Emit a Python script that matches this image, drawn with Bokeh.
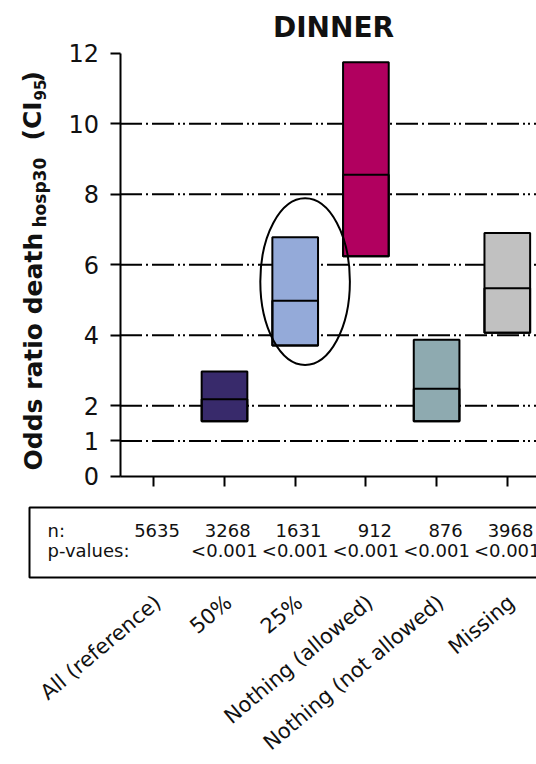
import math
from bokeh.plotting import figure
from bokeh.models import Range1d, FixedTicker, ColumnDataSource
from bokeh.core.properties import value
from bokeh.embed import file_html
from bokeh.resources import INLINE

# ---------------- data ----------------
categories = ["All (reference)", "50%", "25%", "Nothing (allowed)",
              "Nothing (not allowed)", "Missing"]
n_values = ["5635", "3268", "1631", "912", "876", "3968"]
p_values = ["", "<0.001", "<0.001", "<0.001", "<0.001", "<0.001"]

# odds ratio boxes (reference group has no box)
box_index = [1, 2, 3, 4, 5]
box_low = [1.56, 3.71, 6.24, 1.56, 4.07]
box_median = [2.18, 4.98, 8.55, 2.48, 5.33]
box_high = [2.97, 6.78, 11.74, 3.87, 6.90]
box_colors = ["#382a6b", "#94aad9", "#b1005f", "#8eaab0", "#c1c1c1"]

y_ticks = [0, 1, 2, 4, 6, 8, 10, 12]
grid_ticks = [1, 2, 4, 6, 8, 10]

FONT = "DejaVu Sans"
GRID_DASH = "22 4 2 4 22 4 2 3 2 4"
INK = "#111111"

# ---------------- page geometry (layout only) ----------------
W, H = 536, 764
CAT0_PX, PX_PER_CAT = 153.3, 70.7     # page x of first category, px per category
Y0_PX, PX_PER_UNIT = 475.7, 35.25     # page y of OR = 0, px per OR unit


def xd(px):  # page x -> data x
    return (px - CAT0_PX) / PX_PER_CAT


def yd(py):  # page y -> data y
    return (Y0_PX - py) / PX_PER_UNIT


x_start, x_end = xd(0), xd(W)
y_start, y_end = yd(H), yd(0)
axis_x = xd(119.5)

p = figure(width=W, height=H, x_range=Range1d(x_start, x_end),
           y_range=Range1d(y_start, y_end), output_backend="svg",
           toolbar_location=None, min_border=0)
p.outline_line_color = None
p.grid.visible = False

# y axis at fixed location
p.yaxis.fixed_location = axis_x
p.yaxis.bounds = (0, 12)
p.yaxis.ticker = FixedTicker(ticks=y_ticks)
p.yaxis.major_tick_out = 10
p.yaxis.major_tick_in = 0
p.yaxis.minor_tick_line_color = None
p.yaxis.axis_line_width = 2
p.yaxis.major_tick_line_width = 2
p.yaxis.major_label_text_font = FONT
p.yaxis.major_label_text_font_size = "24px"
p.yaxis.major_label_text_color = INK
p.yaxis.major_label_standoff = 11

# x axis at OR = 0
p.xaxis.fixed_location = 0
p.xaxis.bounds = (axis_x, x_end + 1)
p.xaxis.ticker = FixedTicker(ticks=list(range(len(categories))))
p.xaxis.major_label_overrides = {i: "" for i in range(len(categories))}
p.xaxis.major_label_text_font_size = "0px"
p.xaxis.major_tick_out = 10
p.xaxis.major_tick_in = 0
p.xaxis.minor_tick_line_color = None
p.xaxis.axis_line_width = 2
p.xaxis.major_tick_line_width = 2

# dash-dot-dot grid lines starting at the y axis
p.segment(x0=[axis_x] * len(grid_ticks), x1=[x_end + 1] * len(grid_ticks),
          y0=grid_ticks, y1=grid_ticks, line_color="black", line_width=2,
          line_dash=GRID_DASH)

# boxes: CI95 range with median line
src = ColumnDataSource(dict(x=box_index, low=box_low, med=box_median,
                            high=box_high, color=box_colors))
box_w = 0.646
p.vbar(x="x", bottom="low", top="high", width=box_w, fill_color="color",
       line_color="black", line_width=2, source=src)
p.vbar(x="x", bottom="low", top="med", width=box_w, fill_color=None,
       line_color="black", line_width=2, source=src)

# highlight ellipse around the 25% group
p.ellipse(x=[2.14], y=[5.52], width=[1.267], height=[4.73], fill_color=None,
          line_color="black", line_width=2)

# title
p.text(x=[xd(333)], y=[yd(26.7)], text=["DINNER"], text_font=value(FONT),
       text_font_size="28px", text_font_style="bold", text_align="center",
       text_baseline="middle", text_color=INK)

# y-axis title composed of pieces (with subscripts); (text, centre x, start y, size)
label_parts = [
    ("Odds ratio death", 32.5, 470, "25px"),
    ("hosp30", 39.5, 227, "17px"),
    ("(CI", 31.5, 140, "25px"),
    ("95", 39.5, 100, "15px"),
    (")", 31.5, 82, "25px"),
]
for txt, bx, by, fs in label_parts:
    p.text(x=[xd(bx)], y=[yd(by)], text=[txt], angle=math.pi / 2,
           text_align="left", text_baseline="middle", text_font=value(FONT),
           text_font_size=fs, text_font_style="bold", text_color=INK)

# ---------------- table below the axis ----------------
p.quad(left=[xd(29)], right=[x_end + 1], top=[yd(507)], bottom=[yd(577)],
       fill_color=None, line_color="black", line_width=2)

cat_x = list(range(len(categories)))
row1, row2 = yd(529.5), yd(549.5)
p.text(x=[xd(47)] * 2, y=[row1, row2], text=["n:", "p-values:"],
       text_font=value(FONT), text_font_size="18px", text_align="left",
       text_baseline="middle", text_color=INK)
p.text(x=[c + 0.37 for c in cat_x], y=[row1] * len(cat_x), text=n_values,
       text_font=value(FONT), text_font_size="18px", text_align="right",
       text_baseline="middle", text_color=INK)
p.text(x=[c + 0.47 for c in cat_x], y=[row2] * len(cat_x), text=p_values,
       text_font=value(FONT), text_font_size="18px", text_align="right",
       text_baseline="middle", text_color=INK)

# rotated category labels
p.text(x=[c + 0.06 for c in cat_x], y=[yd(599)] * len(cat_x), text=categories,
       angle=math.radians(40), text_font=value(FONT), text_font_size="21px",
       text_align="right", text_baseline="middle", text_color=INK)

open("out.html", "w").write(file_html(p, INLINE))
